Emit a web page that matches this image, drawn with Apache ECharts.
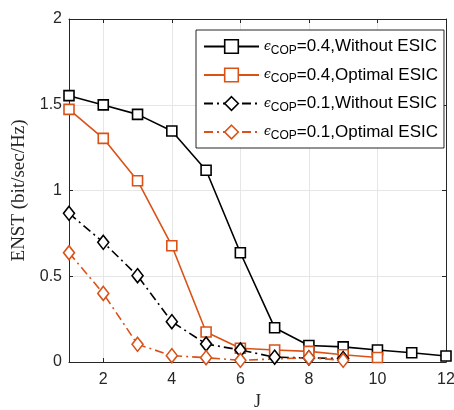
<!DOCTYPE html>
<html>
<head>
<meta charset="utf-8">
<script src="https://cdn.jsdelivr.net/npm/echarts@6/dist/echarts.min.js"></script>
<style>
  html, body { margin: 0; padding: 0; background: #fff; }
  #chart { width: 454px; height: 410px; }
</style>
</head>
<body>
<div id="chart"></div>
<script>
// J 取值
const jValues = [1, 2, 3, 4, 5, 6, 7, 8, 9, 10, 11, 12]
// 各曲线数据 (ENST, bit/sec/Hz)
const cop04Without = [1.553, 1.499, 1.444, 1.347, 1.118, 0.637, 0.200, 0.096, 0.088, 0.070, 0.054, 0.035]
const cop04Optimal = [1.473, 1.304, 1.057, 0.678, 0.175, 0.080, 0.070, 0.062, 0.042, 0.026]
const cop01Without = [0.867, 0.698, 0.503, 0.235, 0.105, 0.070, 0.028, 0.024, 0.020]
const cop01Optimal = [0.637, 0.400, 0.103, 0.037, 0.025, 0.010, 0.018, 0.025, 0.010]
// 刻度
const xTicks = [2, 4, 6, 8, 10, 12]
const seriesNames = [
  '{e|ϵ}{sub|COP}=0.4,Without ESIC',
  '{e|ϵ}{sub|COP}=0.4,Optimal ESIC',
  '{e|ϵ}{sub|COP}=0.1,Without ESIC',
  '{e|ϵ}{sub|COP}=0.1,Optimal ESIC',
]

const BLACK = '#000000'
const ORANGE = '#D95319'
const AXIS = '#262626'
const GRID = '#e6e6e6'
const dashDot = [9, 4, 2, 4]
const SANS = 'Liberation Sans, Arial, sans-serif'
const SERIF = 'Liberation Serif, DejaVu Serif, serif'

function pairs(ys) {
  return ys.map((y, i) => [jValues[i], y])
}

function makeSeries(name, ys, color, symbol, dashed) {
  return {
    name: name,
    type: 'line',
    data: pairs(ys),
    symbol: symbol,
    symbolSize: symbol === 'diamond' ? [11, 14] : 10,
    showSymbol: true,
    color: color,
    lineStyle: { color: color, width: 1.6, type: dashed ? dashDot : 'solid' },
    itemStyle: { color: '#fff', borderColor: color, borderWidth: 1.6, borderType: 'solid' },
    emphasis: { disabled: true },
    animation: false,
  }
}

const series = [
  makeSeries(seriesNames[0], cop04Without, BLACK, 'rect', false),
  makeSeries(seriesNames[1], cop04Optimal, ORANGE, 'rect', false),
  makeSeries(seriesNames[2], cop01Without, BLACK, 'diamond', true),
  makeSeries(seriesNames[3], cop01Optimal, ORANGE, 'diamond', true),
]
// J=7 处的橙色菱形在原图中不可见
series[3].data[6] = { value: series[3].data[6], symbol: 'none' }

const myChart = echarts.init(document.getElementById('chart'))
const option = {
  backgroundColor: '#fff',
  animation: false,
  grid: { left: 69, right: 8, top: 19, bottom: 48, containLabel: false, outerBoundsMode: 'none' },
  legend: {
    orient: 'vertical',
    left: 196,
    top: 30,
    padding: [8, 6, 6, 7],
    itemGap: 10,
    itemWidth: 55,
    itemHeight: 17,
    backgroundColor: '#fff',
    borderColor: AXIS,
    borderWidth: 1,
    borderRadius: 0,
    selectedMode: false,
    data: seriesNames,
    itemStyle: { color: '#fff', borderWidth: 1.6, borderType: 'solid' },
    textStyle: {
      color: '#000',
      fontFamily: SANS,
      fontSize: 17,
      rich: {
        e: { fontFamily: 'DejaVu Serif, serif', fontStyle: 'italic', fontSize: 12, color: '#000' },
        sub: { fontFamily: SANS, fontSize: 12, padding: [8, 0, 0, 0], color: '#000' },
      },
    },
  },
  xAxis: [
    {
      type: 'value',
      min: 1,
      max: 12,
      name: 'J',
      nameLocation: 'middle',
      nameGap: 27,
      nameTextStyle: { fontFamily: SERIF, fontSize: 18, color: AXIS },
      axisLine: { show: true, onZero: false, lineStyle: { color: AXIS, width: 1 } },
      axisTick: { show: true, inside: true, length: 4, customValues: xTicks, lineStyle: { color: AXIS } },
      axisLabel: { customValues: xTicks, color: AXIS, fontSize: 16, margin: 10, fontFamily: SANS },
      splitLine: { show: true, lineStyle: { color: GRID, width: 1 } },
    },
    {
      type: 'value',
      position: 'top',
      min: 1,
      max: 12,
      axisLine: { show: true, onZero: false, lineStyle: { color: AXIS, width: 1 } },
      axisTick: { show: true, inside: true, length: 4, customValues: xTicks, lineStyle: { color: AXIS } },
      axisLabel: { show: false },
      splitLine: { show: false },
    },
  ],
  yAxis: [
    {
      type: 'value',
      min: 0,
      max: 2,
      interval: 0.5,
      name: 'ENST (bit/sec/Hz)',
      nameLocation: 'middle',
      nameGap: 39,
      nameTextStyle: { fontFamily: SERIF, fontSize: 19, color: AXIS },
      axisLine: { show: true, onZero: false, lineStyle: { color: AXIS, width: 1 } },
      axisTick: { show: true, inside: true, length: 4, lineStyle: { color: AXIS } },
      axisLabel: { color: AXIS, fontSize: 16, margin: 7, fontFamily: SANS },
      splitLine: { show: true, lineStyle: { color: GRID, width: 1 } },
    },
    {
      type: 'value',
      position: 'right',
      min: 0,
      max: 2,
      interval: 0.5,
      axisLine: { show: true, onZero: false, lineStyle: { color: AXIS, width: 1 } },
      axisTick: { show: true, inside: true, length: 4, lineStyle: { color: AXIS } },
      axisLabel: { show: false },
      splitLine: { show: false },
    },
  ],
  series: series,
}
myChart.setOption(option)
</script>
</body>
</html>
